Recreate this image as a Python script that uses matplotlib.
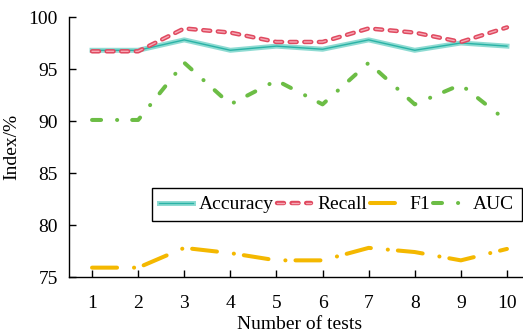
import matplotlib
matplotlib.use("Agg")
import matplotlib.pyplot as plt
import matplotlib.patheffects as pe

plt.rcParams["font.family"] = ["Liberation Serif", "DejaVu Serif"]
plt.rcParams["mathtext.fontset"] = "stix"
plt.rcParams["lines.scale_dashes"] = False

FS = 14

tests = [1, 2, 3, 4, 5, 6, 7, 8, 9, 10]
accuracy = [96.8, 96.8, 97.8, 96.8, 97.2, 96.9, 97.8, 96.8, 97.5, 97.2]
recall = [96.7, 96.7, 98.9, 98.5, 97.6, 97.6, 98.9, 98.5, 97.6, 99.0]
f1 = [75.9, 75.9, 77.8, 77.3, 76.6, 76.6, 77.8, 77.4, 76.6, 77.7]
auc = [90.1, 90.1, 95.6, 91.6, 93.9, 91.6, 95.6, 91.6, 93.5, 90.0]

fig = plt.figure(figsize=(5.23, 3.33), dpi=100)
ax = fig.add_axes([69 / 523, 56 / 333, 461 / 523, 260 / 333])

# Accuracy: thin teal line over a pale teal halo
ax.plot(tests, accuracy, color="#2ab3a6", lw=1.0, label="Accuracy",
        path_effects=[pe.Stroke(linewidth=3.6, foreground="#8edbd2"), pe.Normal()])

# Recall: red dashes with a light pink core
ax.plot(tests, recall, color="#f6a9b6", lw=1.0, label="Recall",
        dashes=(5.0, 5.5), dash_capstyle="round",
        path_effects=[pe.Stroke(linewidth=3.2, foreground="#e04a60", capstyle="round"),
                      pe.Normal()])

# F1: gold dash-dot
ax.plot(tests, f1, color="#f4b800", lw=2.9, label="F1",
        dashes=(18.0, 12.2, 0.1, 7.2), dash_capstyle="round")

# AUC: green dash-dot with wider gaps
ax.plot(tests, auc, color="#6cbd45", lw=2.9, label="AUC",
        dashes=(6.5, 11.5, 0.1, 10.8), dash_capstyle="round")

ax.set_xlim(0.5, 10.5)
ax.set_ylim(75, 100)
ax.set_xticks(tests)
ax.set_yticks([75, 80, 85, 90, 95, 100])
ax.spines["top"].set_visible(False)
ax.spines["right"].set_visible(False)
for s in ("left", "bottom"):
    ax.spines[s].set_linewidth(1.0)
ax.tick_params(axis="both", direction="in", length=5, width=1.0,
               labelsize=FS, colors="black")
ax.tick_params(axis="y", pad=8)
ax.tick_params(axis="x", pad=13)

ax.set_xlabel("Number of tests", fontsize=FS, labelpad=3)
ax.set_ylabel("Index/%", fontsize=FS, labelpad=6)

leg = fig.legend(loc="upper right", bbox_to_anchor=(522 / 523, 1 - 188 / 333),
                 ncol=4, fontsize=FS, frameon=True, fancybox=False,
                 edgecolor="black", framealpha=1, handlelength=1.75,
                 handletextpad=0.3, columnspacing=0.15, borderpad=0.4,
                 borderaxespad=0)
leg.get_frame().set_linewidth(1.0)

fig.savefig("out.png", dpi=100)
